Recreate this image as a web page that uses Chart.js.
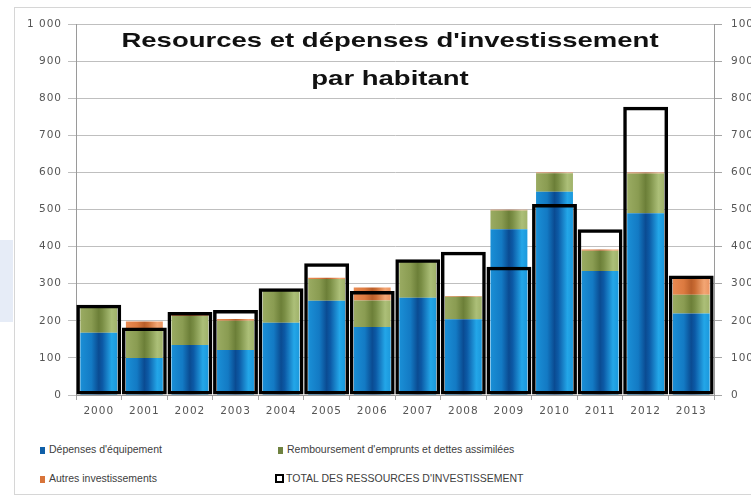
<!DOCTYPE html>
<html>
<head>
<meta charset="utf-8">
<script src="https://cdn.jsdelivr.net/npm/chart.js@4"></script>
<style>
  html, body { margin: 0; padding: 0; background: #ffffff; width: 751px; height: 499px; overflow: hidden; }
  #frame { position: absolute; left: 14px; top: 7px; width: 800px; height: 488px; border: 1px solid #d6d6d6; box-sizing: border-box; }
  #bluebox { position: absolute; left: 0; top: 240px; width: 13px; height: 82px; background: #e6ecf7; }
  #wrap { position: absolute; left: 0; top: 0; width: 790px; height: 430px; }
  #title { position: absolute; left: 390px; top: 25px; width: 0; height: 0; }
  #title div { position: absolute; white-space: nowrap; font-family: "Liberation Sans", Arial, sans-serif; font-weight: bold; font-size: 21px; color: #111; transform: translateX(-50%) scaleX(1.31); transform-origin: center; }
  .leg { position: absolute; font-family: "Liberation Sans", Arial, sans-serif; font-size: 10.5px; color: #404040; white-space: nowrap; }
  .leg .sw { display: inline-block; width: 5px; height: 7px; margin-right: 4px; vertical-align: -1px; }
  .leg .box { display: inline-block; width: 5px; height: 5px; border: 2px solid #000; margin-right: 2px; vertical-align: -1px; background: #fff; }
</style>
</head>
<body>
<div id="frame"></div>
<div id="bluebox"></div>
<div id="wrap"><canvas id="c" width="790" height="430"></canvas></div>
<div id="title"><div id="t1" style="top:3px">Resources et dépenses d'investissement</div><div id="t2" style="top:41px">par habitant</div></div>
<div id="legend"></div>
<script>
const years = ["2000","2001","2002","2003","2004","2005","2006","2007","2008","2009","2010","2011","2012","2013"];
const depensesEquipement = [168, 100, 135, 121, 195, 254, 183, 262, 204, 447, 548, 334, 490, 220];
const remboursement      = [68, 73, 78, 79, 85, 59, 72, 97, 61, 50, 50, 55, 107, 50];
const autresInvest       = [5, 25, 3, 5, 3, 3, 35, 2, 2, 2, 2, 3, 3, 45];
const totalRessources    = [243, 182, 224, 229, 288, 355, 280, 366, 386, 346, 515, 447, 777, 322];
const yTicksMax = 1000;
const seriesNames = ["Dépenses d'équipement", "Remboursement d'emprunts et dettes assimilées", "Autres investissements", "TOTAL DES RESSOURCES D'INVESTISSEMENT"];

const BAR_PCT = 0.81;
function gradFill(stops, solid) {
  return function (c) {
    const xs = c.chart.scales && c.chart.scales.x;
    if (!xs || c.dataIndex === undefined || !isFinite(xs.width) || xs.width <= 0) return solid;
    const cx = xs.getPixelForValue(c.dataIndex);
    const w = (xs.width / years.length) * BAR_PCT;
    const g = c.chart.ctx.createLinearGradient(cx - w / 2, 0, cx + w / 2, 0);
    stops.forEach(s => g.addColorStop(s[0], s[1]));
    return g;
  };
}
const blueStops = [[0, "#1a8fd6"], [0.3, "#137ac4"], [0.5, "#0a4b92"], [0.6, "#0c5aa6"], [0.85, "#23a6e8"], [1, "#1b98dc"]];
const greenStops = [[0, "#9aab62"], [0.3, "#8a9c52"], [0.5, "#6c7f38"], [0.6, "#7a8e45"], [0.85, "#acbf78"], [1, "#a0b26a"]];
const orangeStops = [[0, "#e98a52"], [0.3, "#dc7a40"], [0.5, "#b95e2a"], [0.6, "#c96b33"], [0.85, "#f3a674"], [1, "#ea9462"]];

const tickFont = { family: "DejaVu Sans", size: 10.5 };
const tickColor = "#555555";

const spacingPlugin = {
  id: "spacing",
  beforeDraw(chart) { chart.ctx.letterSpacing = "1px"; },
  afterDraw(chart) { chart.ctx.letterSpacing = "0px"; }
};

const chart = new Chart(document.getElementById("c"), {
  type: "bar",
  data: {
    labels: years,
    datasets: [
      { label: seriesNames[3], data: totalRessources, stack: "total", order: 0, grouped: false,
        backgroundColor: "rgba(0,0,0,0)", borderColor: "#000000", borderWidth: 3.5, borderSkipped: false,
        barPercentage: 0.985, categoryPercentage: 1 },
      { label: seriesNames[0], data: depensesEquipement, stack: "a", order: 1, grouped: false,
        backgroundColor: gradFill(blueStops, "#1478c0"), barPercentage: BAR_PCT, categoryPercentage: 1, borderWidth: 0 },
      { label: seriesNames[1], data: remboursement, stack: "a", order: 2, grouped: false,
        backgroundColor: gradFill(greenStops, "#8a9c52"), barPercentage: BAR_PCT, categoryPercentage: 1, borderWidth: 0 },
      { label: seriesNames[2], data: autresInvest, stack: "a", order: 3, grouped: false,
        backgroundColor: gradFill(orangeStops, "#dc7a40"), barPercentage: BAR_PCT, categoryPercentage: 1, borderWidth: 0 }
    ]
  },
  options: {
    responsive: false,
    animation: false,
    devicePixelRatio: 1,
    layout: { padding: { left: 0, right: 0, top: 24, bottom: 5 } },
    plugins: { legend: { display: false }, title: { display: false }, tooltip: { enabled: false } },
    scales: {
      x: {
        type: "category", offset: true,
        grid: { drawOnChartArea: false, drawTicks: true, tickLength: 5, color: "#a6a6a6", offset: true },
        border: { color: "#9a9a9a" },
        ticks: { font: tickFont, color: tickColor, padding: 5, maxRotation: 0, autoSkip: false },
        afterFit(s) { s.height = 30; }
      },
      y: {
        position: "left", stacked: true, min: 0, max: yTicksMax,
        grid: { color: "#bfbfbf", tickLength: 8 },
        border: { color: "#9a9a9a" },
        ticks: { stepSize: 100, font: tickFont, color: tickColor, padding: 6,
          callback: v => v >= 1000 ? (Math.floor(v / 1000) + " " + String(v % 1000).padStart(3, "0")) : String(v) },
        afterFit(s) { s.width = 76; }
      },
      y2: {
        position: "right", min: 0, max: yTicksMax,
        grid: { drawOnChartArea: false, color: "#a6a6a6", tickLength: 8 },
        border: { color: "#9a9a9a" },
        ticks: { stepSize: 100, font: tickFont, color: tickColor, padding: 9, callback: v => String(v) },
        afterFit(s) { s.width = 76; }
      }
    }
  },
  plugins: [spacingPlugin]
});

// HTML legend built from the dataset definitions
const legend = document.getElementById("legend");
const legItems = [
  { ds: 1, x: 40, y: 443, kind: "sw", color: "#0f5fa8" },
  { ds: 2, x: 278, y: 443, kind: "sw", color: "#6f8240" },
  { ds: 3, x: 40, y: 472, kind: "sw", color: "#d8743a" },
  { ds: 0, x: 275, y: 472, kind: "box" }
];
legItems.forEach(it => {
  const d = document.createElement("div");
  d.className = "leg";
  d.style.left = it.x + "px";
  d.style.top = it.y + "px";
  const s = document.createElement("span");
  s.className = it.kind;
  if (it.kind === "sw") s.style.background = it.color;
  d.appendChild(s);
  d.appendChild(document.createTextNode(chart.data.datasets[it.ds].label));
  legend.appendChild(d);
});
</script>
</body>
</html>
